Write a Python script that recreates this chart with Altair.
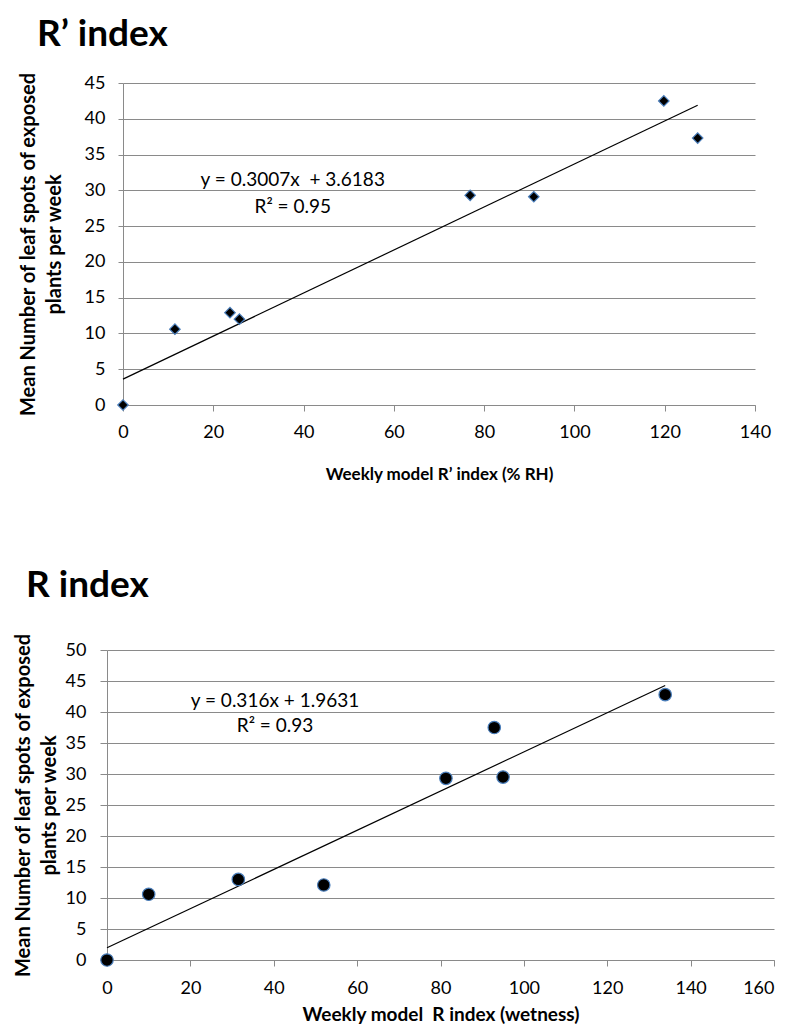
import altair as alt
import pandas as pd

FONT = "Lato"
GRAY = "#8a8a8a"
EDGE = "#4a7ebb"

# ---- Panel 1: R' index (% RH) ----
rp_x = [0, 11.5, 23.7, 25.8, 76.9, 91.0, 119.8, 127.3]
rp_y = [0, 10.6, 12.9, 12.0, 29.3, 29.1, 42.5, 37.3]
rp_slope = 0.3007
rp_intercept = 3.6183
rp_eq = ["y = 0.3007x \u00a0+ 3.6183", "R² = 0.95"]
rp_xticks = [0, 20, 40, 60, 80, 100, 120, 140]
rp_yticks = [0, 5, 10, 15, 20, 25, 30, 35, 40, 45]

# ---- Panel 2: R index (wetness) ----
r_x = [0, 10.0, 31.5, 52.0, 81.3, 92.9, 95.0, 133.9]
r_y = [0, 10.6, 13.0, 12.1, 29.3, 37.5, 29.5, 42.8]
r_slope = 0.316
r_intercept = 1.9631
r_eq = ["y = 0.316x + 1.9631", "R² = 0.93"]
r_xticks = [0, 20, 40, 60, 80, 100, 120, 140, 160]
r_yticks = [0, 5, 10, 15, 20, 25, 30, 35, 40, 45, 50]

Y_TITLE = ["Mean Number of leaf spots of exposed", "plants per week"]


def panel(xs, ys, slope, intercept, eq, eq_x, eq_y, xticks, yticks,
          width, height, shape, size, title, title_dx, title_offset, xtitle,
          xtitle_size, ytick_size, ylabel_pad, ytitle_x, xlabel_pad, xtitle_pad):
    pts = pd.DataFrame({"x": xs, "y": ys})
    x_end = max(xs)
    fit = pd.DataFrame({"x": [0, x_end],
                        "y": [intercept, slope * x_end + intercept]})
    txt = pd.DataFrame({"x": [eq_x, eq_x], "y": eq_y, "t": eq})

    xscale = alt.Scale(domain=[xticks[0], xticks[-1]], nice=False, zero=False)
    yscale = alt.Scale(domain=[yticks[0], yticks[-1]], nice=False, zero=False)
    last = xticks[-1]
    xaxis = alt.Axis(values=xticks, grid=False, domainColor=GRAY,
                     tickColor=GRAY, tickSize=6, labelFontSize=18,
                     labelFont=FONT, labelColor="black",
                     labelPadding=xlabel_pad,
                     labelAlign=alt.condition(f"datum.value == {last} && {last} > 150",
                                              alt.value("right"), alt.value("center")),
                     title=xtitle, titleFont=FONT, titleFontSize=xtitle_size,
                     titleFontWeight="bold", titleColor="black",
                     titlePadding=xtitle_pad)
    yaxis = alt.Axis(values=yticks, grid=True, gridColor=GRAY,
                     domainColor=GRAY, tickColor=GRAY, tickSize=ytick_size,
                     labelFontSize=18, labelFont=FONT, labelColor="black",
                     labelPadding=ylabel_pad, title=Y_TITLE, titleFont=FONT,
                     titleFontSize=20, titleFontWeight="bold",
                     titleColor="black", titleLineHeight=26,
                     titleAngle=270, titleBaseline="top", titleAlign="center",
                     titleX=ytitle_x, titleY=height / 2)
    X = alt.X("x:Q", scale=xscale, axis=xaxis)
    Y = alt.Y("y:Q", scale=yscale, axis=yaxis)

    line = alt.Chart(fit).mark_line(color="black", strokeWidth=1.2).encode(x=X, y=Y)
    dots = alt.Chart(pts).mark_point(shape=shape, size=size, filled=True,
                                     color="black", stroke=EDGE,
                                     strokeWidth=1.2, opacity=1).encode(x=X, y=Y)
    text = alt.Chart(txt).mark_text(font=FONT, fontSize=19, color="black",
                                    baseline="middle", align="center").encode(
        x=X, y=Y, text="t:N")
    return alt.layer(line, dots, text).properties(
        width=width, height=height,
        title=alt.TitleParams(title, anchor="start", frame="group", font=FONT,
                              fontSize=37, fontWeight="bold", color="black",
                              dx=title_dx, offset=title_offset))


top = panel(rp_x, rp_y, rp_slope, rp_intercept, rp_eq, 37.6, [31.45, 27.7],
            rp_xticks, rp_yticks, 632, 322, "diamond", 110,
            "R’ index", -86, 18, "Weekly model R’ index (% RH)", 17,
            5, 13, -105, 12, 25)
bottom = panel(r_x, r_y, r_slope, r_intercept, r_eq, 40.3, [41.8, 37.7],
               r_xticks, r_yticks, 667, 310, "circle", 155,
               "R index", -81, 28, "Weekly model \u00a0R index (wetness)", 19,
               7, 14, -94, 13, 8)

spacer = alt.Chart(pd.DataFrame({"s": [0]})).mark_point(opacity=0).properties(
    width=16, height=10)
top_row = alt.hconcat(spacer, top, spacing=0, bounds="flush")

chart = alt.vconcat(top_row, bottom, spacing=84).properties(
    padding={"left": 4, "top": 7, "right": 0, "bottom": 0}
).configure_view(stroke=None)

chart.save("out.html", embed_options={"renderer": "svg", "actions": False})
